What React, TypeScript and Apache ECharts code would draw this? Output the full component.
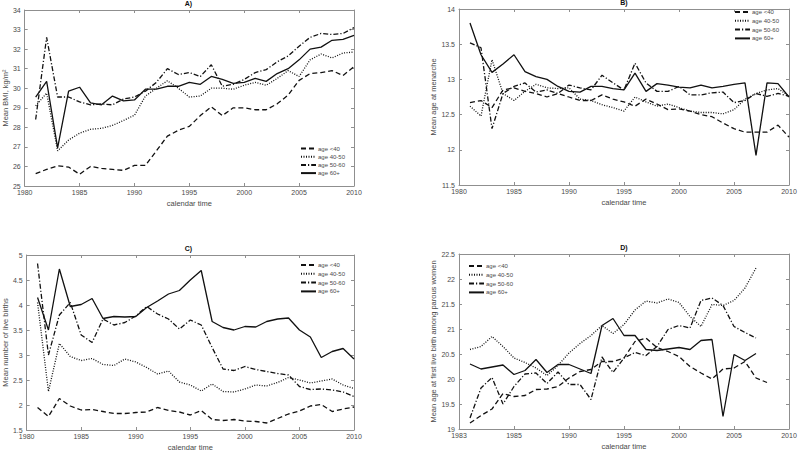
import React, { useEffect, useRef } from 'react';
import * as echarts from 'echarts';

const YEARS = [1981, 1982, 1983, 1984, 1985, 1986, 1987, 1988, 1989, 1990, 1991, 1992, 1993, 1994, 1995, 1996, 1997, 1998, 1999, 2000, 2001, 2002, 2003, 2004, 2005, 2006, 2007, 2008, 2009, 2010];
const X_TICKS_STD = ['1980', '1985', '1990', '1995', '2000', '2005', '2010'];
const X_TICKS_D = ['1983', '1985', '1990', '1995', '2000', '2005', '2010'];
const SERIES_NAMES = ['age <40', 'age 40-50', 'age 50-60', 'age 60+'];

// A) Mean BMI
const A_LT40 = [25.63, 25.85, 26.03, 25.97, 25.6, 26.0, 25.9, 25.85, 25.8, 26.05, 26.05, 26.8, 27.55, 27.85, 28.05, 28.6, 29.05, 28.6, 29.0, 29.0, 28.9, 28.9, 29.2, 29.65, 30.4, 30.75, 30.8, 30.9, 30.65, 31.1];
const A_40_50 = [29.1, 29.75, 26.8, 27.35, 27.7, 27.9, 27.95, 28.1, 28.35, 28.62, 29.6, 30.0, 30.38, 30.0, 29.55, 29.6, 30.0, 30.0, 29.95, 30.15, 30.3, 30.15, 30.5, 30.9, 30.6, 31.45, 31.75, 31.55, 31.8, 31.85];
const A_50_60 = [28.4, 32.6, 29.55, 29.55, 29.3, 29.15, 29.2, 29.15, 29.45, 29.55, 29.85, 30.3, 31.0, 30.7, 30.8, 30.6, 31.2, 30.1, 30.2, 30.45, 30.8, 30.95, 31.35, 31.65, 32.15, 32.6, 32.8, 32.75, 32.8, 33.1];
const A_60 = [29.55, 30.35, 26.95, 29.85, 30.05, 29.25, 29.15, 29.6, 29.35, 29.4, 29.95, 29.95, 30.1, 30.1, 30.3, 30.2, 30.6, 30.45, 30.25, 30.3, 30.5, 30.35, 30.75, 31.0, 31.45, 32.0, 32.1, 32.45, 32.5, 32.7];

// B) Mean age at menarche
const B_LT40 = [12.67, 12.7, 12.6, 12.85, 12.88, 12.83, 12.8, 12.75, 12.8, 12.75, 12.7, 12.7, 12.78, 12.72, 12.68, 12.62, 12.72, 12.65, 12.57, 12.58, 12.55, 12.5, 12.47, 12.38, 12.3, 12.25, 12.25, 12.25, 12.35, 12.18];
const B_40_50 = [12.62, 12.48, 13.28, 12.8, 12.7, 12.83, 12.93, 12.88, 12.87, 12.88, 12.72, 12.7, 12.64, 12.6, 12.55, 12.75, 12.68, 12.62, 12.65, 12.6, 12.55, 12.53, 12.53, 12.51, 12.57, 12.72, 12.8, 12.85, 12.87, 12.76];
const B_50_60 = [13.52, 13.45, 12.3, 12.8, 12.9, 12.95, 12.82, 12.85, 12.8, 12.92, 12.88, 12.85, 13.06, 12.95, 12.85, 13.23, 12.95, 12.83, 12.83, 12.9, 12.78, 12.78, 12.81, 12.82, 12.67, 12.7, 12.8, 12.76, 12.8, 12.76];
const B_60 = [13.8, 13.35, 13.1, 13.22, 13.35, 13.11, 13.04, 13.0, 12.9, 12.83, 12.82, 12.9, 12.9, 12.87, 12.85, 13.09, 12.83, 12.94, 12.92, 12.89, 12.88, 12.92, 12.88, 12.9, 12.93, 12.95, 11.92, 12.95, 12.94, 12.75];

// C) Mean number of live births
const C_LT40 = [1.95, 1.77, 2.13, 1.98, 1.9, 1.91, 1.87, 1.83, 1.83, 1.85, 1.86, 1.95, 1.89, 1.86, 1.8, 1.89, 1.71, 1.69, 1.71, 1.68, 1.67, 1.64, 1.73, 1.82, 1.88, 1.98, 2.01, 1.87, 1.92, 1.96];
const C_40_50 = [4.05, 2.27, 3.23, 2.97, 2.89, 2.93, 2.81, 2.79, 2.92, 2.86, 2.75, 2.62, 2.68, 2.46, 2.4, 2.28, 2.42, 2.27, 2.26, 2.32, 2.4, 2.38, 2.45, 2.55, 2.5, 2.44, 2.48, 2.52, 2.4, 2.33];
const C_50_60 = [4.83, 3.0, 3.8, 4.05, 3.4, 3.25, 3.72, 3.6, 3.65, 3.78, 3.97, 3.82, 3.72, 3.52, 3.7, 3.6, 3.15, 2.72, 2.69, 2.77, 2.71, 2.67, 2.63, 2.6, 2.37, 2.31, 2.32, 2.3, 2.26, 2.17];
const C_60 = [4.15, 3.5, 4.72, 3.97, 4.01, 4.13, 3.73, 3.77, 3.76, 3.77, 3.95, 4.08, 4.22, 4.29, 4.5, 4.69, 3.67, 3.55, 3.5, 3.57, 3.56, 3.67, 3.72, 3.74, 3.5, 3.36, 2.95, 3.07, 3.13, 2.92];

// D) Mean age at first live birth among parous women
const D_LT40 = [19.12, 19.27, 19.4, 19.71, 19.65, 19.67, 19.79, 19.8, 19.85, 20.02, 20.15, 20.19, 20.35, 20.35, 20.42, 20.75, 20.82, 20.63, 20.55, 20.45, 20.25, 20.12, 20.0, 20.2, 20.22, 20.35, 20.02, 19.93];
const D_40_50 = [20.59, 20.65, 20.85, 20.65, 20.42, 20.33, 20.22, 20.07, 20.27, 20.52, 20.71, 20.87, 21.07, 20.91, 21.09, 21.38, 21.56, 21.52, 21.6, 21.53, 21.25, 21.05, 21.49, 21.47, 21.57, 21.82, 22.22];
const D_50_60 = [19.22, 19.82, 20.03, 19.5, 19.85, 20.1, 20.12, 19.91, 20.14, 19.89, 19.89, 19.59, 20.44, 20.13, 20.42, 20.53, 20.47, 20.65, 20.99, 21.07, 21.02, 21.57, 21.62, 21.47, 21.05, 20.93, 20.82];
const D_60 = [20.3, 20.2, 20.24, 20.28, 20.09, 20.17, 20.39, 20.13, 20.29, 20.29, 20.2, 20.11, 21.07, 21.21, 20.87, 20.87, 20.59, 20.57, 20.6, 20.63, 20.59, 20.77, 20.79, 19.25, 20.49, 20.37, 20.51];

const PANELS = [
  { title: 'A)', yName: 'Mean BMI, kg/m\u00b2', yMin: 25, yMax: 34, yInt: 1, xTicks: X_TICKS_STD, data: [A_LT40, A_40_50, A_50_60, A_60] },
  { title: 'B)', yName: 'Mean age at menarche', yMin: 11.5, yMax: 14, yInt: 0.5, xTicks: X_TICKS_STD, data: [B_LT40, B_40_50, B_50_60, B_60] },
  { title: 'C)', yName: 'Mean number of live births', yMin: 1.5, yMax: 5, yInt: 0.5, xTicks: X_TICKS_STD, data: [C_LT40, C_40_50, C_50_60, C_60] },
  { title: 'D)', yName: 'Mean age at first live birth among parous women', yMin: 19, yMax: 22.5, yInt: 0.5, xTicks: X_TICKS_D, data: [D_LT40, D_40_50, D_50_60, D_60] },
];

// layout (pixels)
const LAYOUT = [
  { left: 23, top: 10, width: 331, height: 176, nameGap: 13.5, legendLeft: 300, legendTop: 145.5, legendGap: 2.2 },
  { left: 459, top: 9, width: 330, height: 176, nameGap: 18.5, legendLeft: 734, legendTop: 9, legendGap: 2.8 },
  { left: 23, top: 255, width: 331, height: 175, nameGap: 13.5, legendLeft: 300, legendTop: 262, legendGap: 2.8 },
  { left: 459, top: 254, width: 330, height: 175, nameGap: 18.5, legendLeft: 468, legendTop: 263, legendGap: 2.8 },
];

const DASHES: any[] = [[5, 3], [1, 1.5], [5, 2, 1.2, 2], 'solid'];
const AX = '#8f8f8f';
const TXT = '#4a4a4a';
const FONT = 'Liberation Sans, Arial, sans-serif';

function buildOption() {
  const grid: any[] = [];
  const xAxis: any[] = [];
  const yAxis: any[] = [];
  const series: any[] = [];
  const legend: any[] = [];
  const title: any[] = [];

  PANELS.forEach((p, i) => {
    const L = LAYOUT[i];
    grid.push({ left: L.left, top: L.top, width: L.width, height: L.height, show: false });
    const common = {
      gridIndex: i,
      type: 'value',
      splitLine: { show: false },
      axisLine: { show: true, onZero: false, lineStyle: { color: AX, width: 1 } },
      axisTick: { show: true, inside: true, length: 3, lineStyle: { color: AX, width: 1 } },
    };
    xAxis.push({
      ...common,
      position: 'bottom',
      min: 1980,
      max: 2010,
      interval: 5,
      axisLabel: {
        fontSize: 7,
        color: TXT,
        fontFamily: FONT,
        margin: 3,
        formatter: (_v: number, idx: number) => p.xTicks[idx],
      },
      name: 'calendar time',
      nameLocation: 'middle',
      nameGap: 13,
      nameTextStyle: { fontSize: 7.5, color: TXT, fontFamily: FONT },
    });
    xAxis.push({
      ...common,
      position: 'top',
      min: 1980,
      max: 2010,
      interval: 5,
      axisLabel: { show: false },
    });
    yAxis.push({
      ...common,
      position: 'left',
      min: p.yMin,
      max: p.yMax,
      interval: p.yInt,
      axisLabel: { fontSize: 7, color: TXT, fontFamily: FONT, margin: 4 },
      name: p.yName,
      nameLocation: 'middle',
      nameGap: L.nameGap,
      nameTextStyle: { fontSize: 7.5, color: TXT, fontFamily: FONT },
    });
    yAxis.push({
      ...common,
      position: 'right',
      min: p.yMin,
      max: p.yMax,
      interval: p.yInt,
      axisLabel: { show: false },
    });

    p.data.forEach((vals, s) => {
      series.push({
        type: 'line',
        name: SERIES_NAMES[s],
        xAxisIndex: 2 * i,
        yAxisIndex: 2 * i,
        symbol: 'none',
        showSymbol: false,
        lineStyle: { color: '#111', width: 1.3, type: DASHES[s] },
        itemStyle: { color: '#111' },
        data: vals.map((v, k) => [YEARS[k], v]),
      });
    });

    legend.push({
      orient: 'vertical',
      left: L.legendLeft,
      top: L.legendTop,
      itemWidth: 15,
      itemHeight: 6,
      itemGap: L.legendGap,
      padding: 0,
      itemStyle: { opacity: 0, color: 'rgba(0,0,0,0)', borderWidth: 0 },
      textStyle: { fontSize: 6, color: TXT, fontFamily: FONT, padding: [0, 0, 0, -3] },
      data: SERIES_NAMES,
    });

    title.push({
      text: p.title,
      left: L.left + L.width / 2,
      top: L.top - 10,
      textAlign: 'center',
      padding: 0,
      textStyle: { fontSize: 7, fontWeight: 'bold', color: '#111', fontFamily: FONT },
    });
  });

  return {
    animation: false,
    backgroundColor: '#ffffff',
    title,
    legend,
    grid,
    xAxis,
    yAxis,
    series,
  };
}

export default function App() {
  const ref = useRef<HTMLDivElement>(null);
  useEffect(() => {
    if (!ref.current) return;
    const chart = echarts.init(ref.current, undefined, { renderer: 'svg' });
    chart.setOption(buildOption() as any);
    return () => chart.dispose();
  }, []);
  return (
    <div
      ref={ref}
      style={{ position: 'fixed', left: 0, top: 0, width: 800, height: 453, background: '#fff' }}
    />
  );
}
